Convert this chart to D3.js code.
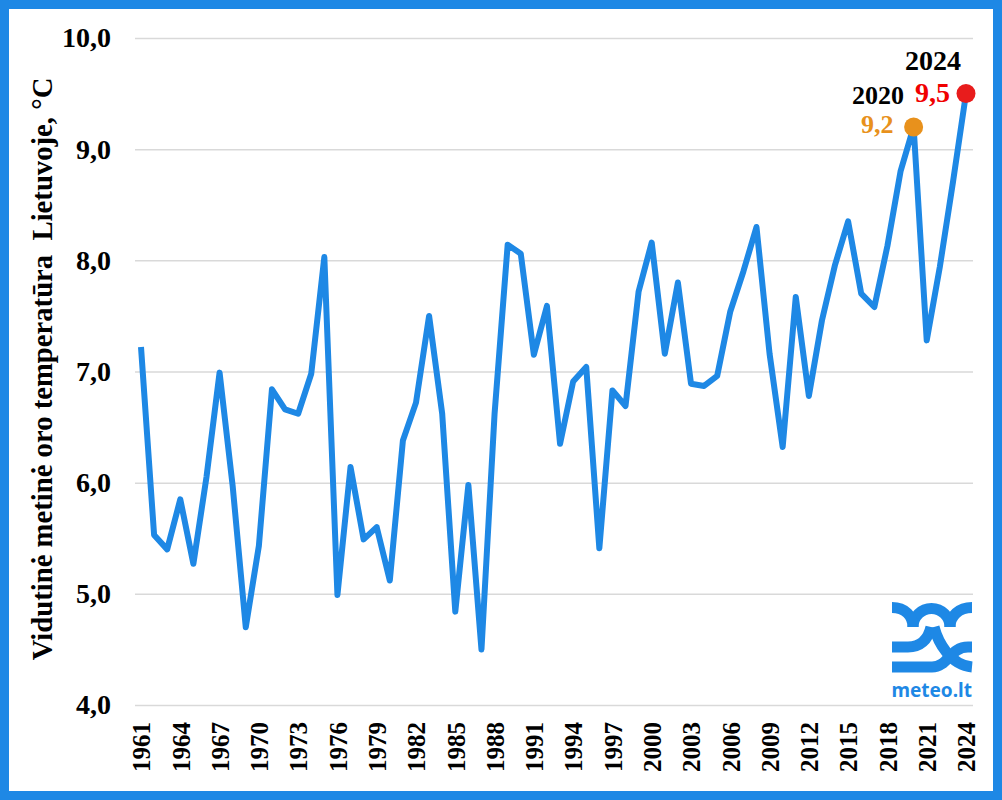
<!DOCTYPE html>
<html>
<head>
<meta charset="utf-8">
<script src="https://cdn.jsdelivr.net/npm/d3@7"></script>
<style>
  html, body { margin: 0; padding: 0; background: #fff; }
  svg { display: block; }
  text { font-family: "Liberation Serif", serif; font-weight: bold; }
</style>
</head>
<body>
<svg id="chart" width="1002" height="800"></svg>
<script>
const years = d3.range(1961, 2025);
const temps = [
  7.22, 5.53, 5.40, 5.85, 5.27, 6.05, 6.99, 5.97, 4.70, 5.43,
  6.84, 6.66, 6.62, 6.98, 8.03, 4.99, 6.14, 5.49, 5.60, 5.12,
  6.38, 6.72, 7.50, 6.62, 4.84, 5.98, 4.50, 6.62, 8.14, 8.06,
  7.15, 7.59, 6.35, 6.91, 7.04, 5.41, 6.83, 6.69, 7.72, 8.16,
  7.16, 7.80, 6.89, 6.87, 6.96, 7.54, 7.90, 8.30, 7.16, 6.32,
  7.67, 6.78, 7.46, 7.96, 8.35, 7.70, 7.58, 8.13, 8.80, 9.20,
  7.28, 7.94, 8.70, 9.50
];
const yTicks = [4, 5, 6, 7, 8, 9, 10];
const xTickYears = years.filter(y => (y - 1961) % 3 === 0);

const blue = "#1e88e5";
const svg = d3.select("#chart");

const x = d3.scaleLinear().domain([1961, 2024]).range([141, 966]);
const y = d3.scaleLinear().domain([4, 10]).range([705, 38]);
const comma = v => d3.format(".1f")(v).replace(".", ",");
const serif = '"Liberation Serif", serif';

svg.append("rect")
  .attr("x", 4.5).attr("y", 4.5).attr("width", 993).attr("height", 791)
  .attr("fill", "#fff").attr("stroke", blue).attr("stroke-width", 9);

// grid lines + y labels
const yAxis = svg.append("g")
  .attr("transform", "translate(135,0)")
  .call(d3.axisLeft(y).tickValues(yTicks).tickFormat(comma).tickSize(-838).tickPadding(24));
yAxis.select(".domain").remove();
yAxis.selectAll(".tick line").attr("stroke", "#d9d9d9").attr("stroke-width", 1.5);
yAxis.selectAll(".tick text")
  .attr("fill", "#000").attr("font-size", 28)
  .style("font-family", serif);

// year labels
const xAxis = svg.append("g")
  .attr("transform", "translate(0,705)")
  .call(d3.axisBottom(x).tickValues(xTickYears).tickFormat(d3.format("d")).tickSize(0));
xAxis.select(".domain").remove();
xAxis.selectAll(".tick text")
  .attr("transform", "rotate(-90)")
  .attr("x", -17).attr("y", 0).attr("dy", "0.35em")
  .attr("text-anchor", "end")
  .attr("fill", "#000").attr("font-size", 25)
  .style("font-family", serif);

svg.append("text")
  .attr("transform", "translate(52,369) rotate(-90)")
  .attr("text-anchor", "middle")
  .attr("font-size", 28.7)
  .attr("fill", "#000")
  .style("white-space", "pre")
  .text("Vidutinė metinė oro temperatūra  Lietuvoje, °C");

const line = d3.line().x((d, i) => x(years[i])).y(d => y(d));
svg.append("path")
  .datum(temps)
  .attr("d", line)
  .attr("fill", "none")
  .attr("stroke", blue)
  .attr("stroke-width", 6)
  .attr("stroke-linejoin", "round");

function highlight(year, color, labelColor, fontSize, dy) {
  const v = temps[years.indexOf(year)];
  svg.append("circle")
    .attr("cx", x(year)).attr("cy", y(v)).attr("r", 9.5)
    .attr("fill", color);
  svg.append("text")
    .attr("x", x(year) - 16 - (year === 2020 ? 4 : 0)).attr("y", y(v) + dy)
    .attr("text-anchor", "end").attr("font-size", fontSize)
    .attr("fill", labelColor)
    .text(comma(v));
}
highlight(2020, "#e8911c", "#e8911c", 26, 6.5);
highlight(2024, "#e81c1c", "#f00000", 28, 8.5);

svg.append("text").attr("x", 904).attr("y", 104).attr("text-anchor", "end")
  .attr("font-size", 26).text(2020);
svg.append("text").attr("x", 961).attr("y", 70).attr("text-anchor", "end")
  .attr("font-size", 28).text(2024);

// meteo.lt logo
const logo = svg.append("g").attr("fill", "none").attr("stroke", blue).attr("stroke-width", 11);
logo.append("path").attr("d", "M913,627 A18.5,18.5 0 0 1 950,627");
logo.append("path").attr("d", "M892,607.5 C905,607.5 913,616 913,627");
logo.append("path").attr("d", "M972,607.5 C959,607.5 950,616 950,627");
logo.append("path").attr("d", "M892,647 H908 C920,647 928,640 931,627");
logo.append("path").attr("d", "M934,627 C938,642 950,665 972,667");
logo.append("path").attr("d", "M892,667 H932 C948,667 950,647 968,647 H972");
svg.append("text")
  .attr("x", 972).attr("y", 697).attr("text-anchor", "end")
  .attr("font-size", 19).attr("fill", blue)
  .style("font-family", '"Noto Sans", sans-serif')
  .text("meteo.lt");
</script>
</body>
</html>
